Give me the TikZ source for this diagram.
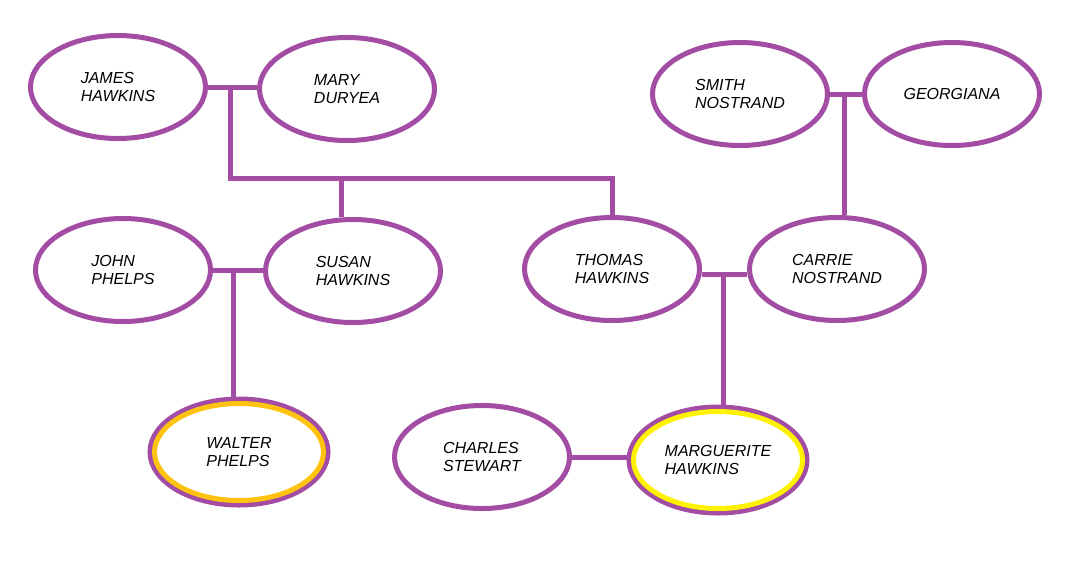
\documentclass[tikz,border=0pt]{standalone}
\usepackage{fontspec}
\setmainfont{Liberation Sans}
\usetikzlibrary{shapes.geometric}

\definecolor{lila}{RGB}{163,76,164}
\definecolor{ouro}{RGB}{255,194,14}
\definecolor{amarelo}{RGB}{255,242,0}

\begin{document}
\begin{tikzpicture}[x=0.75pt, y=-0.75pt,
  pessoa/.style={ellipse, draw=lila, line width=3.75pt, fill=white,
    minimum width=131.25pt, minimum height=77.25pt, inner sep=0pt,
    align=left, font=\fontsize{12}{13.5}\selectfont\itshape},
  destaque/.style={pessoa, minimum width=133.5pt, minimum height=79.5pt},
  laco/.style={draw=lila, line width=3.75pt},
  anel/.style={draw=#1, line width=3.75pt}]

  % Margens da figura
  \useasboundingbox (0,0) rectangle (1067,562);

  % Geracao 1
  \node[pessoa] (james) at (118,87) {JAMES\\HAWKINS};
  \node[pessoa] (mary) at (347,89) {MARY\\DURYEA};
  \node[pessoa] (smith) at (740,94) {SMITH\\NOSTRAND};
  \node[pessoa] (georgiana) at (952,94) {GEORGIANA};

  % Geracao 2
  \node[pessoa] (john) at (123,270) {JOHN\\PHELPS};
  \node[pessoa] (susan) at (353,271) {SUSAN\\HAWKINS};
  \node[pessoa] (thomas) at (612,269) {THOMAS\\HAWKINS};
  \node[pessoa] (carrie) at (837,269) {CARRIE\\NOSTRAND};

  % Geracao 3
  \node[destaque] (walter) at (239,452) {WALTER\\PHELPS};
  \node[pessoa] (charles) at (482,457) {CHARLES\\STEWART};
  \node[destaque] (marguerite) at (718,460) {MARGUERITE\\HAWKINS};

  % Aneis internos
  \draw[anel=ouro] (walter.center) ellipse [x radius=84.5, y radius=48.5];
  \draw[anel=amarelo] (marguerite.center) ellipse [x radius=84.5, y radius=48.5];

  % James + Mary -> Susan, Thomas
  \coordinate (jmdrop) at (230,87);
  \coordinate (jmbar) at (230,178);
  \coordinate (susanstem) at (341,178);
  \draw[laco] (james.east) -- (james.east -| mary.west);
  \draw[laco] (jmdrop) -- (jmbar) -- (jmbar -| thomas.north) -- (thomas.north);
  \draw[laco] (susanstem) -- (susanstem |- susan.north);

  % Smith + Georgiana -> Carrie
  \coordinate (sgdrop) at (844,94);
  \draw[laco] (smith.east) -- (georgiana.west);
  \draw[laco] (sgdrop) -- (sgdrop |- carrie.north);

  % John + Susan -> Walter
  \coordinate (jsdrop) at (233,270);
  \draw[laco] (john.east) -- (john.east -| susan.west);
  \draw[laco] (jsdrop) -- (jsdrop |- walter.north);

  % Thomas + Carrie -> Marguerite
  \coordinate (tcdrop) at (723,274);
  \draw[laco] (tcdrop -| thomas.east) -- (tcdrop -| carrie.west);
  \draw[laco] (tcdrop) -- (tcdrop |- marguerite.north);

  % Charles + Marguerite
  \draw[laco] (charles.east) -- (charles.east -| marguerite.west);

\end{tikzpicture}
\end{document}
